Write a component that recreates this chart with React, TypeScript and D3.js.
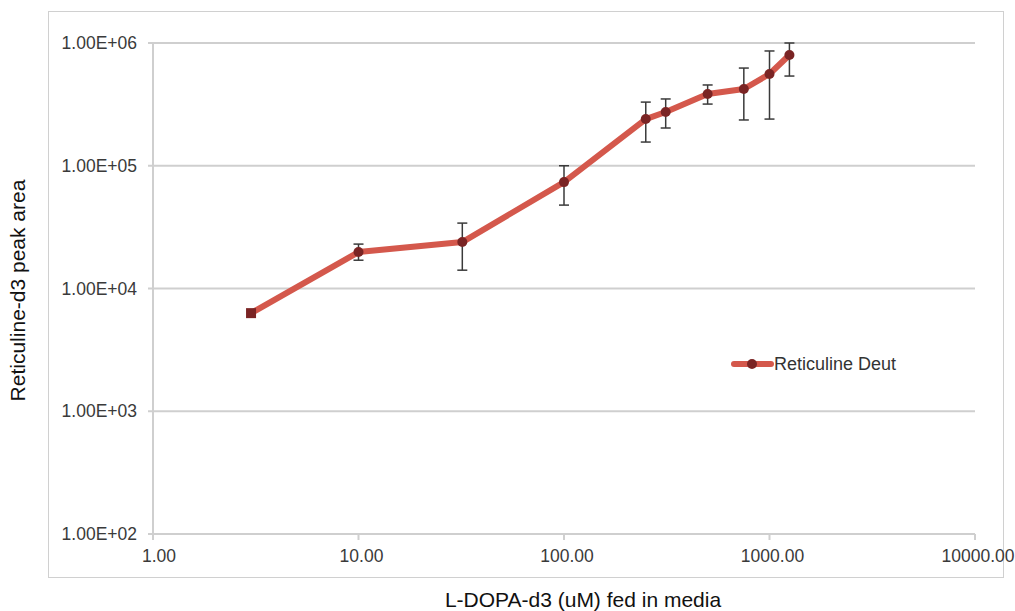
import React from "react";
import * as d3 from "d3";

// L-DOPA-d3 concentration fed (uM)
const doses = [3, 10, 32, 100, 250, 312.5, 500, 750, 1000, 1250];
// Reticuline-d3 peak area (mean)
const peakArea = [6300, 19800, 23900, 73600, 240000, 274000, 384000, 422000, 559000, 798000];
// Error bar bounds
const errLow = [6300, 17000, 14100, 47800, 156000, 203000, 318000, 236000, 240000, 538000];
const errHigh = [6300, 23000, 34100, 100000, 330000, 350000, 455000, 625000, 861000, 1000000];

const xTickValues = [1, 10, 100, 1000, 10000];
const xTickLabels = ["1.00", "10.00", "100.00", "1000.00", "10000.00"];
const yTickValues = [100, 1000, 10000, 100000, 1000000];
const yTickLabels = ["1.00E+02", "1.00E+03", "1.00E+04", "1.00E+05", "1.00E+06"];

const seriesName = "Reticuline Deut";
const xTitle = "L-DOPA-d3 (uM) fed in media";
const yTitle = "Reticuline-d3 peak area";

export default function App() {
  const W = 1015;
  const H = 611;
  const left = 153;
  const right = 975;
  const top = 43;
  const bottom = 534;

  const x = d3.scaleLog().domain([1, 10000]).range([left, right]);
  const y = d3.scaleLog().domain([100, 1000000]).range([bottom, top]);

  const line = d3
    .line<number>()
    .x((_, i) => x(doses[i]))
    .y((d) => y(d));

  const font = "'Liberation Sans', Arial, sans-serif";
  const gridColor = "#cfcfcf";
  const lineColor = "#d4584c";
  const markerColor = "#7a2424";

  return (
    <svg
      width={W}
      height={H}
      style={{ position: "absolute", left: 0, top: 0, background: "#fff" }}
    >
      <rect x={48.5} y={11.5} width={955} height={566} fill="#fff" stroke="#d0d0d0" strokeWidth={1} />

      {/* horizontal gridlines */}
      {yTickValues.map((v) => (
        <line key={v} x1={left - 5} x2={right} y1={y(v)} y2={y(v)} stroke={gridColor} strokeWidth={2} />
      ))}
      {/* y axis line */}
      <line x1={left} x2={left} y1={top} y2={bottom} stroke={gridColor} strokeWidth={2} />
      {/* x ticks */}
      {xTickValues.map((v) => (
        <line key={v} x1={x(v)} x2={x(v)} y1={bottom} y2={bottom + 6} stroke={gridColor} strokeWidth={2} />
      ))}

      {yTickValues.map((v, i) => (
        <text key={v} x={137} y={y(v)} dy="0.35em" textAnchor="end" fontFamily={font} fontSize={17.5} fill="#3a3a3a">
          {yTickLabels[i]}
        </text>
      ))}
      {xTickValues.map((v, i) => (
        <text key={v} x={x(v) + (i === 0 ? 6 : 3)} y={bottom + 28} textAnchor="middle" fontFamily={font} fontSize={17.5} fill="#3a3a3a">
          {xTickLabels[i]}
        </text>
      ))}

      {/* series line */}
      <path d={line(peakArea) || ""} fill="none" stroke={lineColor} strokeWidth={6} strokeLinejoin="round" strokeLinecap="round" />

      {/* error bars */}
      {doses.map((d, i) =>
        errHigh[i] > errLow[i] ? (
          <g key={"e" + i} stroke="#3a3a3a" strokeWidth={1.5}>
            <line x1={x(d)} x2={x(d)} y1={y(errHigh[i])} y2={y(errLow[i])} />
            <line x1={x(d) - 5} x2={x(d) + 5} y1={y(errHigh[i])} y2={y(errHigh[i])} />
            <line x1={x(d) - 5} x2={x(d) + 5} y1={y(errLow[i])} y2={y(errLow[i])} />
          </g>
        ) : null
      )}

      {/* markers */}
      {doses.map((d, i) =>
        i === 0 ? (
          <rect key={"m" + i} x={x(d) - 5} y={y(peakArea[i]) - 5} width={10} height={10} fill={markerColor} />
        ) : (
          <circle key={"m" + i} cx={x(d)} cy={y(peakArea[i])} r={5} fill={markerColor} />
        )
      )}

      {/* legend */}
      <line x1={734} x2={771} y1={364} y2={364} stroke={lineColor} strokeWidth={6} strokeLinecap="round" />
      <circle cx={752} cy={364} r={5} fill={markerColor} />
      <text x={774} y={364} dy="0.35em" fontFamily={font} fontSize={18} fill="#333">
        {seriesName}
      </text>

      {/* axis titles */}
      <text x={583} y={607} textAnchor="middle" fontFamily={font} fontSize={21} fill="#111">
        {xTitle}
      </text>
      <text
        transform={`translate(25, ${(top + bottom) / 2 + 2}) rotate(-90)`}
        textAnchor="middle"
        fontFamily={font}
        fontSize={21}
        fill="#111"
      >
        {yTitle}
      </text>
    </svg>
  );
}
